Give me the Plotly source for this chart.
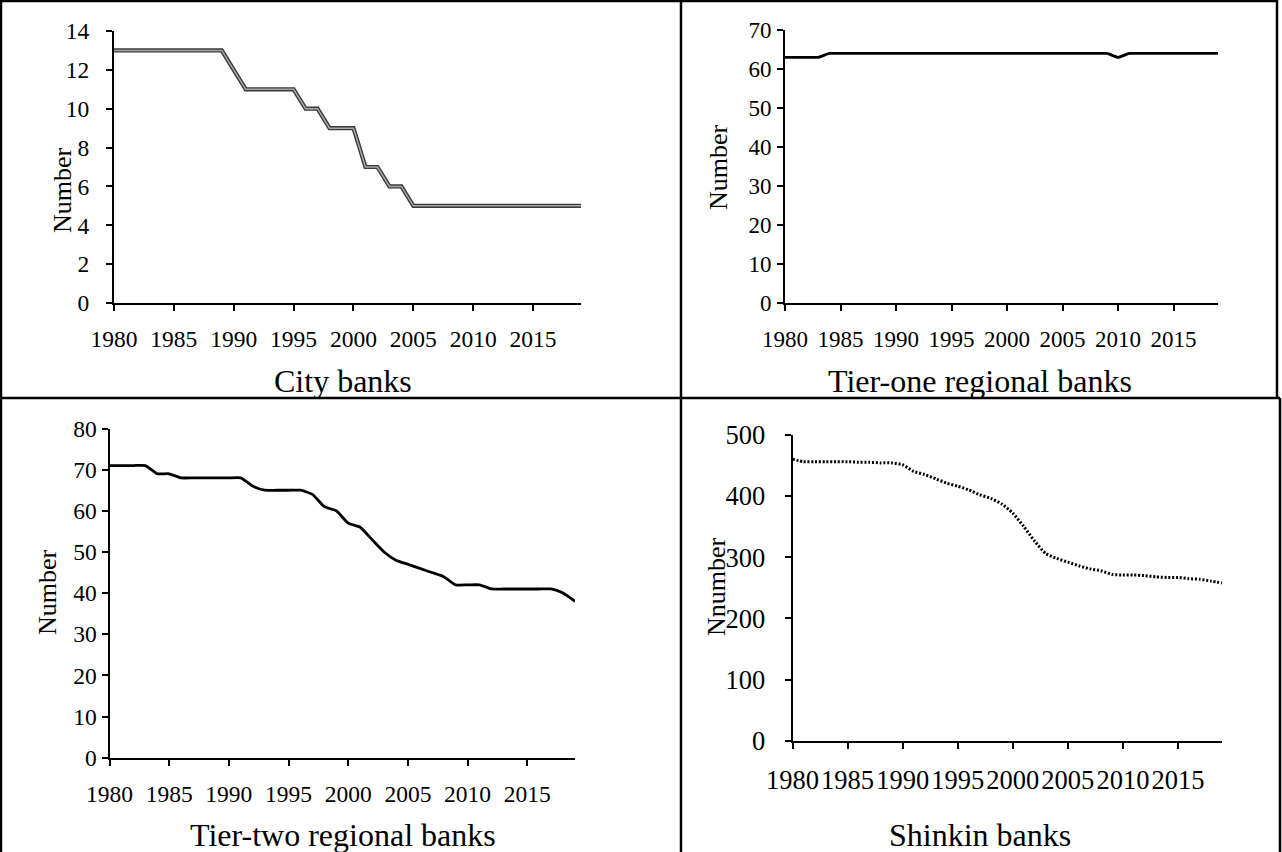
import plotly.graph_objects as go

W, H = 1282, 852

years = list(range(1980, 2020))

city_banks = [13, 13, 13, 13, 13, 13, 13, 13, 13, 13,
              12, 11, 11, 11, 11, 11, 10, 10, 9, 9,
              9, 7, 7, 6, 6, 5, 5, 5, 5, 5,
              5, 5, 5, 5, 5, 5, 5, 5, 5, 5]

tier_one = [63, 63, 63, 63, 64, 64, 64, 64, 64, 64,
            64, 64, 64, 64, 64, 64, 64, 64, 64, 64,
            64, 64, 64, 64, 64, 64, 64, 64, 64, 64,
            63, 64, 64, 64, 64, 64, 64, 64, 64, 64]

tier_two = [71, 71, 71, 71, 69, 69, 68, 68, 68, 68,
            68, 68, 66, 65, 65, 65, 65, 64, 61, 60,
            57, 56, 53, 50, 48, 47, 46, 45, 44, 42,
            42, 42, 41, 41, 41, 41, 41, 41, 40, 38]

shinkin = [460, 456, 456, 456, 456, 456, 455, 455, 454, 454,
           451, 440, 435, 428, 421, 416, 410, 402, 396, 387,
           372, 350, 326, 306, 298, 292, 286, 281, 278, 272,
           271, 271, 270, 268, 267, 267, 265, 264, 261, 258]

x_ticks = [1980, 1985, 1990, 1995, 2000, 2005, 2010, 2015]
x_tick_text = ["1980", "1985", "1990", "1995", "2000", "2005", "2010", "2015"]

titles = ["City banks", "Tier-one regional banks", "Tier-two regional banks", "Shinkin banks"]
y_titles = ["Number", "Number", "Number", "Nnumber"]
y_ranges = [[0, 14], [0, 70], [0, 80], [0, 500]]
y_dticks = [2, 10, 10, 100]

FONT = "Liberation Serif, Times New Roman, serif"


def px_x(p):
    return p / W


def px_y(p):
    return 1 - p / H


# plot areas in pixels: (left, right, top, bottom)
areas = [(114, 581, 31, 303), (785, 1218, 30, 303), (109.5, 575, 428.5, 757.7), (792.5, 1222, 434.7, 741)]
tick_font = [23.5, 23, 23.5, 26.5]
y_standoff = [12, 1, 0, 14]
x_standoff = [8, 8, 8, 8]
title_pos = [(343, 381), (980, 381), (343, 835), (980, 835)]
ytitle_pos = [(62, 190), (718, 167), (47, 592), (716, 587)]

fig = go.Figure()

# City banks: double line look
fig.add_trace(go.Scatter(x=years, y=city_banks, mode="lines", xaxis="x", yaxis="y",
                         line=dict(color="#3a3a3a", width=4.2), showlegend=False, hoverinfo="skip"))
fig.add_trace(go.Scatter(x=years, y=city_banks, mode="lines", xaxis="x", yaxis="y",
                         line=dict(color="#a8a8a8", width=1.5), showlegend=False))
fig.add_trace(go.Scatter(x=years, y=tier_one, mode="lines", xaxis="x2", yaxis="y2",
                         line=dict(color="black", width=2.8, shape="spline", smoothing=0.5), showlegend=False))
fig.add_trace(go.Scatter(x=years, y=tier_two, mode="lines", xaxis="x3", yaxis="y3",
                         line=dict(color="black", width=2.8, shape="spline", smoothing=0.5), showlegend=False))
fig.add_trace(go.Scatter(x=years, y=shinkin, mode="lines", xaxis="x4", yaxis="y4",
                         line=dict(color="black", width=3, dash="2px,1.8px", shape="spline", smoothing=0.6),
                         showlegend=False))

layout = dict(
    width=W, height=H,
    margin=dict(l=0, r=0, t=0, b=0, pad=0, autoexpand=False),
    paper_bgcolor="white", plot_bgcolor="white",
    font=dict(family=FONT, color="black"),
    showlegend=False,
)

for i in range(4):
    l, r, t, b = areas[i]
    sfx = "" if i == 0 else str(i + 1)
    layout["xaxis" + sfx] = dict(
        domain=[px_x(l), px_x(r)], anchor="y" + sfx, range=[1980, 2019],
        tickmode="array", tickvals=x_ticks, ticktext=x_tick_text, tickangle=0,
        showline=True, linecolor="black", linewidth=2,
        ticks="outside", ticklen=6, tickwidth=2, tickcolor="black",
        showgrid=False, zeroline=False, automargin=False,
        tickfont=dict(family=FONT, size=tick_font[i], color="black"),
        ticklabelstandoff=x_standoff[i], fixedrange=True,
    )
    layout["yaxis" + sfx] = dict(
        domain=[px_y(b), px_y(t)], anchor="x" + sfx, range=y_ranges[i],
        dtick=y_dticks[i], tick0=0,
        showline=True, linecolor="black", linewidth=2,
        ticks="outside", ticklen=6, tickwidth=2, tickcolor="black",
        showgrid=False, zeroline=False, automargin=False,
        tickfont=dict(family=FONT, size=tick_font[i], color="black"),
        ticklabelstandoff=y_standoff[i], fixedrange=True,
    )

annotations = []
for i in range(4):
    tx, ty = title_pos[i]
    annotations.append(dict(text=titles[i], x=px_x(tx), y=px_y(ty), xref="paper", yref="paper",
                            showarrow=False, xanchor="center", yanchor="middle",
                            font=dict(family=FONT, size=32, color="black")))
    yx, yy = ytitle_pos[i]
    annotations.append(dict(text=y_titles[i], x=px_x(yx), y=px_y(yy), xref="paper", yref="paper",
                            showarrow=False, xanchor="center", yanchor="middle", textangle=-90,
                            font=dict(family=FONT, size=26, color="black")))
layout["annotations"] = annotations

border = dict(color="black", width=2.5)
shapes = []
for (x0, y0, x1, y1) in [(0, 1, 1277, 1), (1, 0, 1, H), (0, 398, 1280, 398), (681, 0, 681, H),
                         (1277, 0, 1277, 398), (1280, 398, 1280, H)]:
    shapes.append(dict(type="line", xref="paper", yref="paper",
                       x0=px_x(x0), y0=px_y(y0), x1=px_x(x1), y1=px_y(y1), line=border))
layout["shapes"] = shapes

fig.update_layout(**layout)
fig.write_html("out.html", config={"displayModeBar": False},
               post_script="document.body.style.margin='0';document.body.style.overflow='hidden';")
